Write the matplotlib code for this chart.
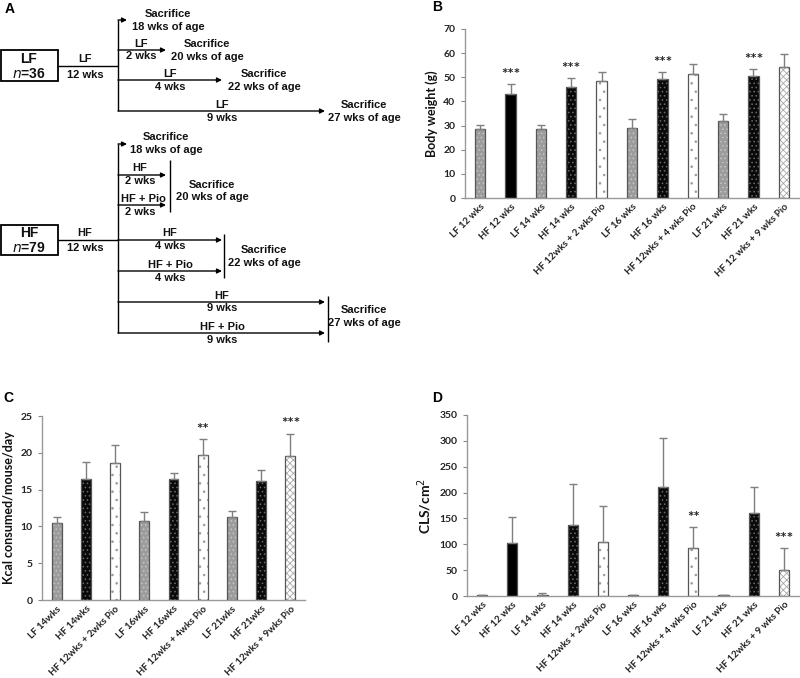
import numpy as np
import matplotlib
matplotlib.use("Agg")
import matplotlib.pyplot as plt

plt.rcParams['font.family'] = ['Lato', 'DejaVu Sans']
plt.rcParams['hatch.linewidth'] = 0.6

# panel B: body weight
b_labels = ["LF 12 wks", "HF 12 wks", "LF 14 wks", "HF 14 wks", "HF 12wks + 2 wks Pio",
            "LF 16 wks", "HF 16 wks", "HF 12wks + 4 wks Pio", "LF 21 wks", "HF 21 wks",
            "HF 12 wks + 9 wks Pio"]
b_mean = [28.5, 43.0, 28.5, 46.0, 48.3, 29.0, 49.2, 51.3, 31.9, 50.6, 54.2]
b_err = [1.8, 4.2, 1.8, 3.8, 3.7, 3.7, 2.8, 4.4, 3.1, 2.7, 5.3]
b_stars = ["", "***", "", "***", "", "", "***", "", "", "***", ""]
b_kind = ["LF", "HF0", "LF", "HF", "P", "LF", "HF", "P", "LF", "HF", "P9"]

# panel C: food intake
c_labels = ["LF 14wks", "HF 14wks", "HF 12wks + 2wks Pio", "LF 16wks", "HF 16wks",
            "HF 12wks + 4wks Pio", "LF 21wks", "HF 21wks", "HF 12wks + 9wks Pio"]
c_mean = [10.4, 16.5, 18.6, 10.8, 16.5, 19.7, 11.3, 16.2, 19.6]
c_err = [0.9, 2.2, 2.5, 1.2, 0.8, 2.2, 0.8, 1.5, 3.0]
c_stars = ["", "", "", "", "", "**", "", "", "***"]
c_kind = ["LF", "HF", "P", "LF", "HF", "P", "LF", "HF", "P9"]

# panel D: CLS
d_labels = ["LF 12 wks", "HF 12 wks", "LF 14 wks", "HF 14 wks", "HF 12wks + 2wks Pio",
            "LF 16 wks", "HF 16 wks", "HF 12wks + 4 wks Pio", "LF 21 wks", "HF 21 wks",
            "HF 12wks + 9 wks Pio"]
d_mean = [1, 102, 2, 137, 105, 1, 210, 92, 1, 161, 50]
d_err = [1, 50, 3, 79, 69, 1, 96, 42, 1, 49, 42]
d_stars = ["", "", "", "", "", "", "", "**", "", "", "***"]
d_kind = b_kind

styles = {
    "LF": ("#9c9c9c", "#c4c4c4", "...."),
    "HF0": ("#000000", "#000000", None),
    "HF": ("#0a0a0a", "#6a6a6a", "...."),
    "P": ("#ffffff", "#9a9a9a", ".."),
    "P9": ("#ffffff", "#a8a8a8", "xxxxx"),
}


def bar_panel(ax, labels, mean, err, stars, kind, ymax, ystep, ylabel, ylsize):
    x = np.arange(len(labels))
    for i in x:
        fc, hc, h = styles[kind[i]]
        ax.bar(i, mean[i], width=0.34, color=fc, edgecolor=hc, hatch=h, linewidth=0, zorder=2)
        ax.bar(i, mean[i], width=0.34, fill=False, edgecolor="#555555", linewidth=0.9, zorder=3)
    ax.errorbar(x, mean, yerr=[np.zeros(len(err)), err], fmt="none", ecolor="#7f7f7f",
                elinewidth=1, capsize=3, capthick=1, zorder=4)
    for i in x:
        if stars[i]:
            ax.text(i, mean[i] + err[i] + ymax * 0.012, stars[i], ha="center", va="bottom",
                    fontsize=11, fontweight="bold", color="#222222")
    ax.set_xlim(-0.5, len(labels) - 0.5)
    ax.set_ylim(0, ymax)
    ax.set_yticks(np.arange(0, ymax + 1, ystep))
    ax.set_xticks(x)
    ax.set_xticklabels(labels, rotation=45, ha="right", rotation_mode="anchor",
                       fontsize=7, fontweight="bold", color="#222222")
    for t in ax.get_yticklabels():
        t.set_fontsize(7.5)
        t.set_fontweight("bold")
        t.set_color("#222222")
    ax.tick_params(axis="x", length=0, pad=3)
    ax.tick_params(axis="y", length=3, color="#888888", pad=4)
    for s in ["top", "right"]:
        ax.spines[s].set_visible(False)
    for s in ["left", "bottom"]:
        ax.spines[s].set_color("#999999")
        ax.spines[s].set_linewidth(1)
    ax.set_ylabel(ylabel, fontsize=ylsize, fontweight="bold", color="#111111", labelpad=4)


fig = plt.figure(figsize=(8, 6.78), dpi=100)
W, H = 800, 678


def px_axes(l, t, r, b):
    return fig.add_axes([l / W, 1 - b / H, (r - l) / W, (b - t) / H])


# panel A: study design diagram (pixel space)
axA = px_axes(0, 0, 400, 345)
axA.set_xlim(0, 400)
axA.set_ylim(345, 0)
axA.axis("off")
kw = dict(ha="center", va="center", fontsize=8, fontweight="bold",
          family=["Liberation Sans", "DejaVu Sans"], color="#111111")


def arrow(x0, x1, y):
    axA.annotate("", xy=(x1, y), xytext=(x0, y),
                 arrowprops=dict(arrowstyle="-|>", color="black", lw=1, mutation_scale=7,
                                 shrinkA=0, shrinkB=0))


def line(xs, ys):
    axA.plot(xs, ys, color="black", lw=1, solid_capstyle="butt")


# LF arm
axA.add_patch(plt.Rectangle((1, 50), 57, 31, fill=False, lw=1.3, ec="black"))
axA.text(29, 59, "LF", **{**kw, "fontsize": 10})
axA.text(29, 74, "$\\mathbf{\\mathit{n}}$=36", **{**kw, "fontsize": 10})
line([58, 118], [66, 66])
axA.text(85, 59, "LF", **kw)
axA.text(85, 75, "12 wks", **kw)
line([118, 118], [20, 111])
arrow(118, 127, 20)
axA.text(168, 14, "Sacrifice", **kw)
axA.text(168, 27, "18 wks of age", **kw)
arrow(118, 166, 50)
axA.text(141, 44, "LF", **kw)
axA.text(141, 56, "2 wks", **kw)
axA.text(207, 44, "Sacrifice", **kw)
axA.text(207, 57, "20 wks of age", **kw)
arrow(118, 222, 80)
axA.text(170, 74, "LF", **kw)
axA.text(170, 87, "4 wks", **kw)
axA.text(264, 74, "Sacrifice", **kw)
axA.text(264, 87, "22 wks of age", **kw)
arrow(118, 325, 111)
axA.text(222, 105, "LF", **kw)
axA.text(222, 118, "9 wks", **kw)
axA.text(364, 105, "Sacrifice", **kw)
axA.text(364, 118, "27 wks of age", **kw)

# HF arm
axA.add_patch(plt.Rectangle((1, 225), 57, 30, fill=False, lw=1.3, ec="black"))
axA.text(29, 233, "HF", **{**kw, "fontsize": 10})
axA.text(29, 248, "$\\mathbf{\\mathit{n}}$=79", **{**kw, "fontsize": 10})
line([58, 118], [240, 240])
axA.text(85, 233, "HF", **kw)
axA.text(85, 248, "12 wks", **kw)
line([118, 118], [144, 333])
arrow(118, 127, 144)
axA.text(166, 137, "Sacrifice", **kw)
axA.text(166, 150, "18 wks of age", **kw)
arrow(118, 166, 175)
axA.text(140, 168, "HF", **kw)
axA.text(140, 181, "2 wks", **kw)
arrow(118, 166, 205)
axA.text(143, 199, "HF + Pio", **kw)
axA.text(140, 212, "2 wks", **kw)
line([170, 170], [160, 212])
axA.text(212, 185, "Sacrifice", **kw)
axA.text(212, 197, "20 wks of age", **kw)
arrow(118, 222, 240)
axA.text(170, 233, "HF", **kw)
axA.text(170, 246, "4 wks", **kw)
arrow(118, 222, 271)
axA.text(170, 265, "HF + Pio", **kw)
axA.text(170, 278, "4 wks", **kw)
line([224, 224], [234, 278])
axA.text(264, 250, "Sacrifice", **kw)
axA.text(264, 263, "22 wks of age", **kw)
arrow(118, 325, 302)
axA.text(222, 296, "HF", **kw)
axA.text(222, 308, "9 wks", **kw)
arrow(118, 325, 333)
axA.text(222, 327, "HF + Pio", **kw)
axA.text(222, 340, "9 wks", **kw)
line([328, 328], [296, 342])
axA.text(364, 310, "Sacrifice", **kw)
axA.text(364, 323, "27 wks of age", **kw)

# bar panels
axB = px_axes(465, 29, 799, 198)
bar_panel(axB, b_labels, b_mean, b_err, b_stars, b_kind, 70, 10, "Body weight (g)", 9)
axC = px_axes(42, 416, 305, 600)
bar_panel(axC, c_labels, c_mean, c_err, c_stars, c_kind, 25, 5, "Kcal consumed/mouse/day", 9)
axD = px_axes(467, 415, 799, 596)
bar_panel(axD, d_labels, d_mean, d_err, d_stars, d_kind, 350, 50, "CLS/cm$^2$", 10)

for lab, xp, yp in [("A", 10, 9), ("B", 437, 7), ("C", 8, 398), ("D", 437, 398)]:
    fig.text(xp / W, 1 - yp / H, lab, ha="center", va="center", fontsize=10,
             fontweight="bold", family=["Liberation Sans", "DejaVu Sans"])

fig.savefig("out.png", dpi=100)
